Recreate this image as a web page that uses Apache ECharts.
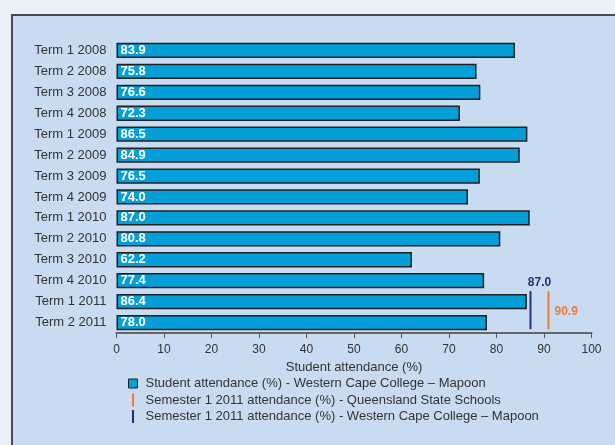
<!DOCTYPE html>
<html>
<head>
<meta charset="utf-8">
<script src="https://cdn.jsdelivr.net/npm/echarts@6/dist/echarts.min.js"></script>
<style>
html,body{margin:0;padding:0;background:#eaf0f8;}
#c{width:615px;height:445px;}
</style>
</head>
<body>
<div id="c"></div>
<script>
const categories = ['Term 1 2008','Term 2 2008','Term 3 2008','Term 4 2008','Term 1 2009','Term 2 2009','Term 3 2009','Term 4 2009','Term 1 2010','Term 2 2010','Term 3 2010','Term 4 2010','Term 1 2011','Term 2 2011'];
const attendance = [83.9,75.8,76.6,72.3,86.5,84.9,76.5,74.0,87.0,80.8,62.2,77.4,86.4,78.0];
const qldSemester = 90.9;
const wccSemester = 87.0;
const refSpan = ['Term 1 2011','Term 2 2011'];
const xTicks = [0,10,20,30,40,50,60,70,80,90,100];

const nameBar = 'Student attendance (%) - Western Cape College \u2013 Mapoon';
const nameQld = 'Semester 1 2011 attendance (%) - Queensland State Schools';
const nameWcc = 'Semester 1 2011 attendance (%) - Western Cape College \u2013 Mapoon';
const ORANGE = '#f07a36';
const NAVY = '#2c2f7c';
const BLUE = '#049fd9';
const FONT = 'Liberation Sans, Arial, sans-serif';

function refRender(color, labelMode) {
  return function (params, api) {
    const v = api.value(0);
    const i1 = categories.indexOf(refSpan[0]);
    const i2 = categories.indexOf(refSpan[1]);
    const p1 = api.coord([v, i1]);
    const p2 = api.coord([v, i2]);
    const bw = api.size([0, 1])[1];
    const x = Math.round(p1[0]) + 0.5;
    const yTop = p1[1] - bw * 0.5;
    const yBot = p2[1] + bw * 0.32;
    const txt = api.value(0).toFixed(1);
    const label = labelMode === 'top'
      ? {type:'text', style:{x: x + 9, y: yTop - 8, text: txt, fill: color, font: 'bold 12px ' + FONT, textAlign:'center', textVerticalAlign:'middle'}}
      : {type:'text', style:{x: x + 6, y: (p1[1] + p2[1]) / 2, text: txt, fill: color, font: 'bold 12px ' + FONT, textAlign:'left', textVerticalAlign:'middle'}};
    return {type:'group', children:[
      {type:'line', shape:{x1:x, y1:yTop, x2:x, y2:yBot}, style:{stroke: color, lineWidth: 2}},
      label
    ]};
  };
}

const chart = echarts.init(document.getElementById('c'), null, {renderer:'canvas'});
chart.setOption({
  backgroundColor: '#eaf0f8',
  animation: false,
  textStyle: {fontFamily: FONT},
  graphic: [{
    type:'rect', left: 11, top: 14, z: -10,
    shape:{x:0, y:0, width: 700, height: 500},
    style:{fill:'#c9dbf1', stroke:'#454a55', lineWidth: 2}
  }],
  grid: {left: 116.5, right: 23.5, top: 40, height: 293, containLabel: false},
  xAxis: {
    type:'value', min: 0, max: 100, interval: 10,
    name: 'Student attendance (%)', nameLocation: 'middle', nameGap: 25,
    nameTextStyle: {color:'#333', fontSize: 13, fontFamily: FONT},
    axisLine: {show: true, lineStyle: {color:'#666', width: 2}},
    axisTick: {show: true, length: 5, lineStyle: {color:'#555'}},
    axisLabel: {color:'#333', fontSize: 12, margin: 11, fontFamily: FONT,
      formatter: function (v) { return xTicks.indexOf(v) >= 0 ? String(v) : ''; }},
    splitLine: {show: false}
  },
  yAxis: {
    type:'category', data: categories, inverse: true,
    axisLine: {show: false}, axisTick: {show: false},
    axisLabel: {color:'#333', fontSize: 13, margin: 10, fontFamily: FONT}
  },
  legend: {
    orient: 'vertical', left: 123, top: 372, itemGap: 3.5,
    itemWidth: 9, itemHeight: 13,
    textStyle: {color:'#333', fontSize: 13, fontFamily: FONT, padding: [0,0,0,3]},
    data: [
      {name: nameBar, icon: 'path://M0,0h10v10h-10z', itemStyle: {color: BLUE, borderColor:'#222', borderWidth: 1}},
      {name: nameQld, icon: 'path://M0,0h2v12h-2z', itemStyle: {color: ORANGE}},
      {name: nameWcc, icon: 'path://M0,0h2v12h-2z', itemStyle: {color: NAVY}}
    ]
  },
  series: [
    {
      name: nameBar, type: 'bar', data: attendance, barCategoryGap: '27%',
      itemStyle: {color: BLUE, borderColor:'#222', borderWidth: 1.5},
      label: {show: true, position: 'insideLeft', distance: 4, color:'#fff', fontWeight:'bold', fontSize: 13, fontFamily: FONT,
        formatter: function (p) { return p.value.toFixed(1); }}
    },
    {
      name: nameQld, type: 'custom', data: [[qldSemester]], itemStyle: {color: ORANGE},
      renderItem: refRender(ORANGE, 'right'), z: 5
    },
    {
      name: nameWcc, type: 'custom', data: [[wccSemester]], itemStyle: {color: NAVY},
      renderItem: refRender(NAVY, 'top'), z: 5
    }
  ]
});
</script>
</body>
</html>
